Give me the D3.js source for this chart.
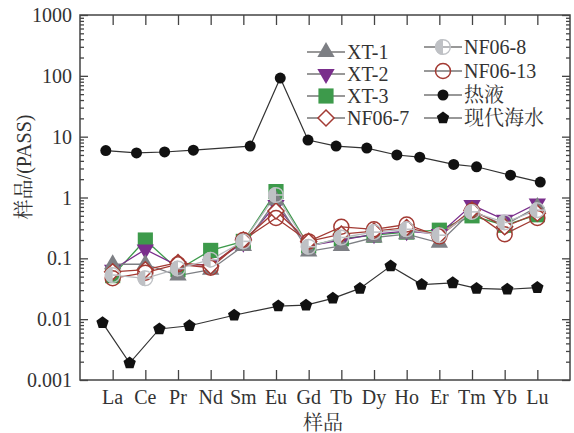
<!DOCTYPE html>
<html><head><meta charset="utf-8">
<script src="https://cdn.jsdelivr.net/npm/d3@7"></script>
<style>
body{margin:0;background:#fff;}
text{font-family:"Liberation Serif","Times New Roman","Noto Serif CJK SC","Noto Sans CJK SC",serif;fill:#333;}
</style></head>
<body>
<svg id="c" width="574" height="433"></svg>
<script>
const ree = ["La","Ce","Pr","Nd","Sm","Eu","Gd","Tb","Dy","Ho","Er","Tm","Yb","Lu"];
const yTicks = [0.001,0.01,0.1,1,10,100,1000];
const xt1   = [0.08,0.08,0.052,0.065,0.16,0.9,0.13,0.16,0.22,0.25,0.18,0.6,0.35,0.7];
const xt2   = [0.065,0.14,0.075,0.08,0.18,0.75,0.16,0.2,0.25,0.28,0.25,0.75,0.43,0.8];
const xt3   = [0.052,0.2,0.065,0.135,0.19,1.25,0.16,0.21,0.24,0.27,0.29,0.5,0.35,0.52];
const nf067 = [0.06,0.065,0.085,0.075,0.2,0.6,0.19,0.25,0.28,0.32,0.24,0.62,0.33,0.55];
const nf068 = [0.053,0.047,0.068,0.095,0.19,1.1,0.155,0.22,0.27,0.3,0.24,0.58,0.39,0.62];
const nf0613= [0.047,0.058,0.08,0.07,0.2,0.46,0.19,0.33,0.3,0.36,0.23,0.6,0.25,0.46];
// hydrothermal & seawater were plotted at their own (slightly offset) positions, in index units
const hydroX = [-0.21,0.73,1.59,2.47,4.21,5.13,5.98,6.84,7.78,8.70,9.40,10.44,11.14,12.18,13.09];
const hydroY = [5.9,5.4,5.6,6.0,7.0,92,8.8,7.0,6.5,5.0,4.6,3.5,3.2,2.33,1.79];
const seaX   = [-0.31,0.52,1.43,2.35,3.72,5.07,5.92,6.74,7.57,8.51,9.46,10.41,11.14,12.08,13.0];
const seaY   = [0.0087,0.0019,0.0069,0.0078,0.0116,0.0164,0.017,0.022,0.032,0.0745,0.037,0.0395,0.032,0.031,0.033];

const svg = d3.select("#c");
const L=80,R=570,T=15,B=380;
const x = d3.scaleLinear().domain([-1,14]).range([L,R]);
const y = d3.scaleLog().domain([0.001,1000]).range([B,T]);
const axisCol="#444";

svg.append("rect").attr("x",L).attr("y",T).attr("width",R-L).attr("height",B-T)
  .attr("fill","none").attr("stroke",axisCol).attr("stroke-width",1.5);

const minor=[];
for(let e=-3;e<3;e++) for(let m=2;m<=9;m++) minor.push(m*Math.pow(10,e));

const gl = svg.append("g").attr("transform",`translate(${L},0)`);
gl.call(d3.axisRight(y).tickValues(yTicks).tickSize(8).tickFormat(""));
gl.append("g").call(d3.axisRight(y).tickValues(minor).tickSize(4).tickFormat(""));
const gr = svg.append("g").attr("transform",`translate(${R},0)`);
gr.call(d3.axisLeft(y).tickValues(yTicks).tickSize(8).tickFormat(""));
gr.append("g").call(d3.axisLeft(y).tickValues(minor).tickSize(4).tickFormat(""));
const gb = svg.append("g").attr("transform",`translate(0,${B})`);
gb.call(d3.axisTop(x).tickValues(d3.range(ree.length)).tickSize(10).tickFormat(""));
const gt = svg.append("g").attr("transform",`translate(0,${T})`);
gt.call(d3.axisBottom(x).tickValues(d3.range(ree.length)).tickSize(10).tickFormat(""));
svg.selectAll(".domain").remove();
svg.selectAll(".tick line").attr("stroke",axisCol).attr("stroke-width",1.3);

svg.append("g").selectAll("text").data(yTicks).join("text")
  .attr("x",L-8).attr("y",d=>y(d)).attr("dy","0.35em").attr("text-anchor","end")
  .attr("font-size",20).text(d=>String(d));
svg.append("g").selectAll("text").data(ree).join("text")
  .attr("x",(d,i)=>x(i)).attr("y",B+24).attr("text-anchor","middle")
  .attr("font-size",20).text(d=>d);
svg.append("text").attr("x",323).attr("y",430).attr("text-anchor","middle")
  .attr("font-size",20).text("样品");
svg.append("text").attr("transform",`translate(31,167) rotate(-90)`)
  .attr("text-anchor","middle").attr("font-size",20).text("样品/(PASS)");

function pentagon(r){
  const pts=d3.range(5).map(k=>{const a=-Math.PI/2+k*2*Math.PI/5;return [r*Math.cos(a),r*Math.sin(a)];});
  return "M"+pts.map(p=>p.join(",")).join("L")+"Z";
}
const triPath = d3.symbol(d3.symbolTriangle,130)();
const sqPath = d3.symbol(d3.symbolSquare,230)();
const diaPath = "M0,-8L8,0L0,8L-8,0Z";

const series = [
  {name:"XT-3", v:xt3, color:"#3d9a4b", draw:(g)=>g.append("path").attr("d",sqPath).attr("fill","#3d9a4b")},
  {name:"XT-2", v:xt2, color:"#7a2e8c", draw:(g)=>g.append("path").attr("d",triPath).attr("transform","rotate(180)").attr("fill","#7a2e8c")},
  {name:"XT-1", v:xt1, color:"#7d7f84", draw:(g)=>g.append("path").attr("d",triPath).attr("fill","#7d7f84")},
  {name:"NF06-7", v:nf067, color:"#a33a33", draw:(g)=>g.append("path").attr("d",diaPath).attr("fill","#fff").attr("stroke","#a33a33").attr("stroke-width",1.5)},
  {name:"NF06-13", v:nf0613, color:"#a33a33", draw:(g)=>g.append("circle").attr("r",7.5).attr("fill","none").attr("stroke","#a33a33").attr("stroke-width",1.5)},
  {name:"NF06-8", v:nf068, color:"#b7b9bd", draw:(g)=>{
      g.append("path").attr("d",d3.arc()({innerRadius:0,outerRadius:8,startAngle:Math.PI,endAngle:2*Math.PI})).attr("fill","#bfc1c5");
      g.append("circle").attr("r",7.3).attr("fill","none").attr("stroke","#bfc1c5").attr("stroke-width",1.4);
      g.append("line").attr("x1",0).attr("x2",8).attr("stroke","#bfc1c5").attr("stroke-width",1.6);
  }}
];

const line = d3.line().x(d=>x(d[0])).y(d=>y(d[1]));
series.forEach(s=>{
  svg.append("path").attr("d",line(s.v.map((v,i)=>[i,v]))).attr("fill","none")
    .attr("stroke",s.color).attr("stroke-width",1.3);
});
const hyd = hydroX.map((xx,i)=>[xx,hydroY[i]]);
const sea = seaX.map((xx,i)=>[xx,seaY[i]]);
svg.append("path").attr("d",line(hyd)).attr("fill","none").attr("stroke","#333").attr("stroke-width",1.2);
svg.append("path").attr("d",line(sea)).attr("fill","none").attr("stroke","#333").attr("stroke-width",1.2);

series.forEach(s=>{
  s.v.forEach((v,i)=>{
    const g=svg.append("g").attr("transform",`translate(${x(i)},${y(v)})`);
    s.draw(g);
  });
});
hyd.forEach(d=>svg.append("circle").attr("cx",x(d[0])).attr("cy",y(d[1])).attr("r",5.5).attr("fill","#111"));
sea.forEach(d=>svg.append("path").attr("d",pentagon(6.5)).attr("transform",`translate(${x(d[0])},${y(d[1])})`).attr("fill","#111"));

const leg = [
  {s:"XT-1", cx:326, cy:52},
  {s:"XT-2", cx:326, cy:74},
  {s:"XT-3", cx:326, cy:96},
  {s:"NF06-7", cx:326, cy:118},
  {s:"NF06-8", cx:443, cy:47},
  {s:"NF06-13", cx:443, cy:71},
  {s:"热液", cx:443, cy:95},
  {s:"现代海水", cx:443, cy:118}
];
leg.forEach(l=>{
  const g=svg.append("g").attr("transform",`translate(${l.cx},${l.cy})`);
  g.append("line").attr("x1",-19).attr("x2",19).attr("stroke","#333").attr("stroke-width",1.2);
  const s=series.find(q=>q.name===l.s);
  if(s) s.draw(g);
  else if(l.s==="热液") g.append("circle").attr("r",5.5).attr("fill","#111");
  else g.append("path").attr("d",pentagon(6.5)).attr("fill","#111");
  g.append("text").attr("x",21).attr("dy","0.35em").attr("font-size",20).text(l.s);
});
</script>
</body></html>
